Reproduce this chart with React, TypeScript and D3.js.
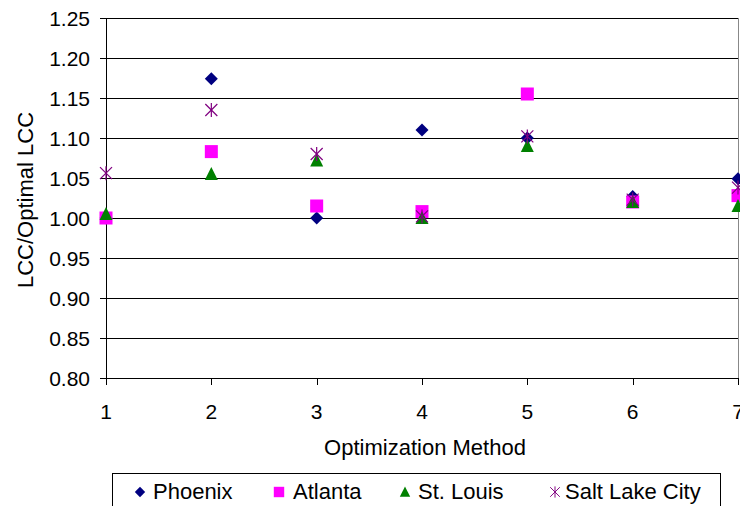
import React from 'react'
import * as d3 from 'd3'

const methods = [1, 2, 3, 4, 5, 6, 7]
const yTicks = [0.8, 0.85, 0.9, 0.95, 1.0, 1.05, 1.1, 1.15, 1.2, 1.25]

const phoenix = [1.0, 1.174, 1.0, 1.11, 1.1, 1.027, 1.049]
const atlanta = [1.0, 1.083, 1.015, 1.008, 1.155, 1.02, 1.028]
const stLouis = [1.005, 1.055, 1.072, 1.0, 1.09, 1.02, 1.015]
const saltLake = [1.056, 1.135, 1.08, 1.002, 1.102, 1.023, 1.038]

const seriesNames = ['Phoenix', 'Atlanta', 'St. Louis', 'Salt Lake City']
const seriesColors = ['#000080', '#FF00FF', '#008000', '#800080']
const seriesShapes = ['diamond', 'square', 'triangle', 'star']
const seriesValues = [phoenix, atlanta, stLouis, saltLake]

const W = 740
const H = 506
const margin = { left: 106, right: 2, top: 18, bottom: 128 }
const font = 'Liberation Sans, Arial, sans-serif'

// draw a marker centred at (0,0)
const Marker = ({ shape, color }: { shape: string; color: string }) => {
  if (shape === 'diamond') {
    return <path d="M0,-6.5L6.5,0L0,6.5L-6.5,0Z" fill={color} />
  }
  if (shape === 'square') {
    return <rect x={-6.5} y={-6.5} width={13} height={13} fill={color} />
  }
  if (shape === 'triangle') {
    return <path d="M0,-7L6.5,6L-6.5,6Z" fill={color} />
  }
  return (
    <g stroke={color} strokeWidth={1.2}>
      <line x1={-6} y1={-6} x2={6} y2={6} />
      <line x1={-6} y1={6} x2={6} y2={-6} />
      <line x1={0} y1={-7} x2={0} y2={7} />
    </g>
  )
}

const App = () => {
  const x = d3
    .scaleLinear()
    .domain([1, 7])
    .range([margin.left, W - margin.right])
  const y = d3
    .scaleLinear()
    .domain([0.8, 1.25])
    .range([H - margin.bottom, margin.top])

  const x0 = margin.left
  const x1 = W - margin.right
  const yb = y(0.8)
  const yt = y(1.25)

  const legendMarkX = [140, 279, 405, 555]
  const legendTextX = [153, 293, 418, 565]

  return (
    <svg
      width={W}
      height={H}
      style={{ position: 'absolute', left: 0, top: 0, background: '#fff' }}
      fontFamily={font}
    >
      {/* gridlines */}
      {yTicks.map((t) => (
        <line
          key={t}
          x1={x0}
          x2={x1}
          y1={Math.round(y(t)) + 0.5}
          y2={Math.round(y(t)) + 0.5}
          stroke="#000"
          strokeWidth={1}
        />
      ))}
      {/* right border */}
      <line x1={x1 + 0.5} x2={x1 + 0.5} y1={yt} y2={yb} stroke="#888" />
      {/* y axis */}
      <line x1={x0 + 0.5} x2={x0 + 0.5} y1={yt} y2={yb + 0.5} stroke="#000" />
      {yTicks.map((t) => (
        <g key={t}>
          <line
            x1={x0 - 6}
            x2={x0}
            y1={Math.round(y(t)) + 0.5}
            y2={Math.round(y(t)) + 0.5}
            stroke="#000"
          />
          <text
            x={90}
            y={y(t)}
            dy="0.36em"
            textAnchor="end"
            fontSize={21}
            fill="#000"
          >
            {d3.format('.2f')(t)}
          </text>
        </g>
      ))}
      {/* x axis */}
      {methods.map((m) => (
        <g key={m}>
          <line
            x1={Math.round(x(m)) + 0.5}
            x2={Math.round(x(m)) + 0.5}
            y1={yb}
            y2={yb + 7}
            stroke="#000"
          />
          <text
            x={x(m)}
            y={419}
            textAnchor="middle"
            fontSize={21}
            fill="#000"
          >
            {m}
          </text>
        </g>
      ))}
      <text x={425} y={455} textAnchor="middle" fontSize={22} fill="#000">
        Optimization Method
      </text>
      <text
        transform={`translate(33,${(yt + yb) / 2 + 2}) rotate(-90)`}
        textAnchor="middle"
        fontSize={22}
        fill="#000"
      >
        LCC/Optimal LCC
      </text>

      {/* points */}
      {seriesValues.map((vals, si) => (
        <g key={si}>
          {vals.map((v, i) => (
            <g key={i} transform={`translate(${x(methods[i])},${y(v)})`}>
              <Marker shape={seriesShapes[si]} color={seriesColors[si]} />
            </g>
          ))}
        </g>
      ))}

      {/* legend */}
      <rect x={112.5} y={473.5} width={608} height={40} fill="#fff" stroke="#000" />
      {seriesNames.map((name, si) => (
        <g key={name}>
          <g transform={`translate(${legendMarkX[si]},${492}) scale(0.8)`}>
            <Marker shape={seriesShapes[si]} color={seriesColors[si]} />
          </g>
          <text x={legendTextX[si]} y={499} fontSize={22} fill="#000">
            {name}
          </text>
        </g>
      ))}
    </svg>
  )
}

export default App
